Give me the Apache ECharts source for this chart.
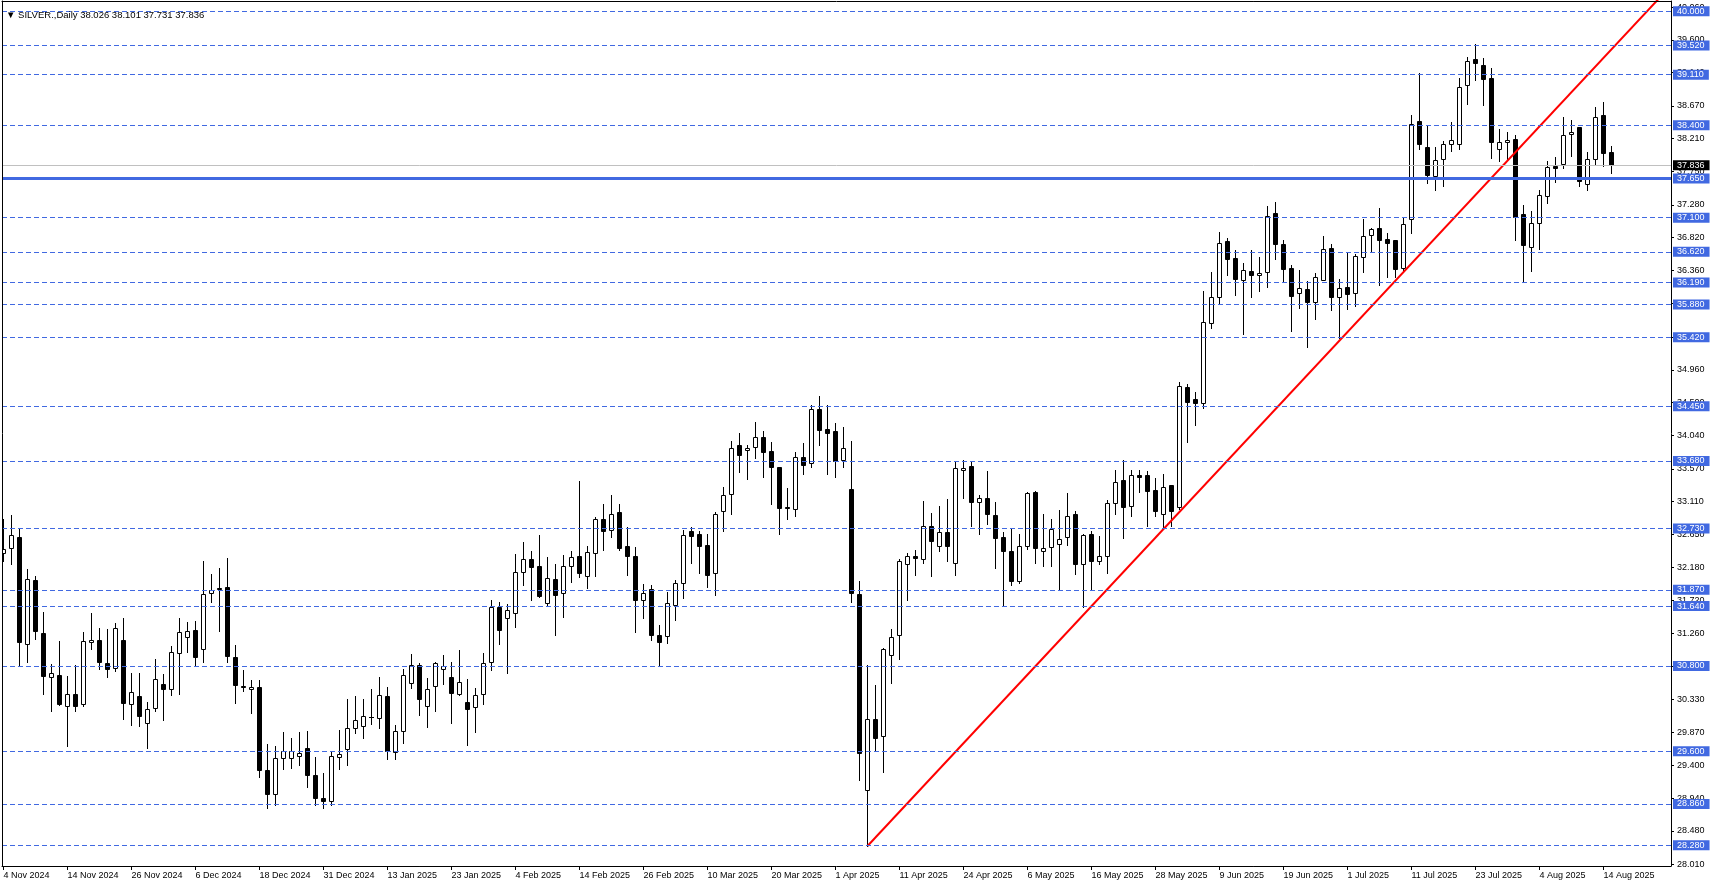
<!DOCTYPE html>
<html><head><meta charset="utf-8">
<script src="https://cdn.jsdelivr.net/npm/echarts@6/dist/echarts.min.js"></script>
<style>html,body{margin:0;padding:0;background:#fff}#c{width:1712px;height:888px}</style>
</head><body><div id="c"></div>
<script>
// ---- data (bar index 0 = 4 Nov 2024 ... 201 = 15 Aug 2025) ----
const openP = [
32.38,32.45,32.61,31.11,32.01,31.26,30.65,30.67,30.24,30.41,
30.27,31.13,31.16,30.84,30.77,31.16,30.27,30.37,30.00,30.21,
30.54,30.47,30.98,31.21,31.30,31.04,31.82,31.89,31.91,30.93,
30.52,30.48,30.51,29.34,29.00,29.51,29.51,29.54,29.64,29.27,
28.95,28.90,29.52,29.63,29.92,29.96,30.08,30.07,30.37,29.59,
29.88,30.56,30.81,30.23,30.52,30.76,30.65,30.41,30.29,30.22,
30.40,30.85,31.63,31.47,31.55,32.12,32.30,32.20,31.68,32.02,
31.82,32.21,32.34,32.07,32.38,32.87,32.71,32.96,32.48,32.35,
31.72,31.88,31.24,31.22,31.65,31.97,32.70,32.65,32.50,32.11,
32.97,33.21,33.91,33.83,33.87,34.01,33.82,33.59,33.03,33.01,
33.73,33.65,34.41,34.13,34.10,33.70,33.28,31.81,29.05,30.06,
29.82,30.95,31.23,32.23,32.34,32.30,32.76,32.49,32.68,32.24,
33.55,33.61,33.10,33.16,32.92,32.61,32.42,32.00,32.48,33.24,
32.42,32.47,32.51,32.61,32.94,32.23,32.65,32.27,32.34,33.09,
33.41,33.05,33.48,33.48,33.27,32.94,33.34,33.03,34.72,34.55,
34.49,35.62,35.99,36.77,36.53,36.23,36.35,36.29,36.33,37.17,
36.73,36.39,36.04,36.09,35.92,36.23,36.67,35.99,36.13,36.04,
36.55,36.85,36.96,36.80,36.78,36.39,37.08,38.46,38.09,37.68,
37.93,38.13,38.14,38.96,39.33,39.25,39.06,38.07,38.16,38.21,
37.15,36.69,37.02,37.40,37.83,37.85,38.27,38.37,37.57,37.93,
38.54,38.026];
const highP = [
32.87,32.92,32.72,32.16,32.06,31.56,30.83,31.15,30.66,30.81,
31.28,31.54,31.33,31.32,31.40,31.47,30.70,30.70,30.29,30.89,
30.68,31.08,31.47,31.41,31.43,32.27,32.09,32.18,32.32,31.09,
30.74,30.60,30.60,29.70,29.68,29.87,29.78,29.87,29.88,29.52,
29.30,29.59,29.90,30.33,30.38,30.33,30.47,30.64,30.50,29.97,
30.76,30.97,30.84,30.63,30.86,30.95,30.85,31.02,30.62,30.49,
30.98,31.73,31.70,31.67,32.37,32.54,32.41,32.64,32.33,32.23,
32.36,32.41,33.40,32.49,32.89,33.08,33.20,33.08,32.75,32.47,
31.95,31.93,31.38,31.84,32.01,32.71,32.75,32.69,32.65,32.96,
33.31,33.96,34.07,33.90,34.23,34.10,33.95,33.60,33.30,33.81,
33.93,34.47,34.59,34.47,34.21,34.16,33.96,31.99,30.81,30.53,
31.05,31.32,32.30,32.39,32.43,33.12,32.95,33.05,33.15,33.68,
33.69,33.68,33.20,33.54,33.11,32.68,32.72,32.66,33.24,33.26,
32.94,32.87,32.99,33.23,32.97,32.65,32.69,32.63,33.13,33.56,
33.70,33.55,33.56,33.54,33.44,33.49,33.34,34.79,34.76,34.65,
36.07,36.34,36.90,36.82,36.64,36.46,36.64,36.55,37.26,37.32,
36.79,36.43,36.36,36.21,36.32,36.84,36.73,36.24,36.62,36.59,
37.08,36.96,37.24,36.88,36.78,37.11,38.54,39.13,38.39,38.09,
38.18,38.44,39.06,39.36,39.54,39.35,39.20,38.35,38.30,38.26,
37.28,37.19,37.49,37.90,37.95,38.51,38.47,38.37,38.02,38.65,
38.73,38.101];
const lowP = [
32.27,32.23,30.81,30.86,31.18,30.41,30.17,30.25,29.67,30.17,
30.24,31.04,30.76,30.64,30.73,30.06,29.97,29.96,29.64,30.17,
30.04,30.39,30.41,31.00,30.81,30.86,31.70,31.29,30.86,30.28,
30.45,30.14,29.24,28.80,28.85,29.35,29.36,29.40,29.10,28.84,
28.80,28.85,29.35,29.40,29.86,29.79,29.98,29.93,29.49,29.49,
29.72,30.49,30.11,29.94,30.17,30.55,30.00,30.39,29.69,29.87,
30.27,30.74,31.11,30.70,31.34,31.94,31.73,31.77,31.66,31.23,
31.49,31.98,32.05,31.90,32.06,32.43,32.61,32.43,32.08,31.28,
31.48,31.17,30.80,31.12,31.45,31.76,32.25,32.10,31.91,31.79,
32.69,32.93,33.52,33.42,33.72,33.45,33.08,32.66,32.87,32.91,
33.50,33.59,33.91,33.49,33.46,33.60,31.70,29.19,28.27,29.60,
29.31,30.56,30.90,31.73,32.08,32.24,32.07,32.42,32.27,32.08,
33.16,32.77,32.65,32.79,32.18,31.66,31.93,31.96,32.44,32.24,
32.20,32.20,31.87,32.50,32.09,31.63,31.86,32.23,32.11,32.93,
32.60,32.90,33.24,32.76,32.91,32.75,32.76,33.00,33.95,34.18,
34.43,35.55,35.90,36.29,36.01,35.46,35.98,36.07,36.12,36.52,
36.19,35.50,35.83,35.28,35.67,36.22,35.80,35.41,35.81,35.86,
36.34,36.62,36.16,36.27,36.27,36.35,36.89,38.07,37.58,37.49,
37.54,38.03,38.06,38.70,39.03,38.69,37.94,37.90,37.91,36.78,
36.20,36.35,36.66,37.31,37.60,37.80,37.96,37.55,37.49,37.84,
37.83,37.731];
const closeP = [
32.44,32.64,31.14,32.02,31.29,30.66,30.70,30.26,30.41,30.23,
31.15,31.17,30.85,30.76,31.33,30.28,30.43,30.09,30.20,30.61,
30.48,30.99,31.27,31.29,30.93,31.81,31.86,31.88,30.94,30.53,
30.51,30.51,29.34,29.00,29.50,29.60,29.61,29.58,29.27,28.95,
28.90,29.54,29.56,29.92,30.04,30.09,30.08,30.39,29.61,29.89,
30.67,30.81,30.34,30.48,30.84,30.80,30.42,30.58,30.20,30.39,
30.84,31.63,31.30,31.59,32.12,32.30,32.19,31.78,32.03,31.80,
32.21,32.33,32.10,32.40,32.87,32.69,32.93,32.45,32.34,31.73,
31.83,31.24,31.14,31.68,31.96,32.64,32.62,32.49,32.08,32.93,
33.20,33.86,33.77,33.86,34.01,33.80,33.59,33.02,33.02,33.73,
33.63,34.41,34.12,34.08,33.68,33.86,31.83,29.58,30.06,29.79,
31.04,31.20,32.27,32.35,32.31,32.76,32.55,32.68,32.49,33.58,
33.58,33.10,33.16,32.93,32.60,32.41,32.00,32.48,33.23,32.45,
32.45,32.73,32.59,32.90,32.23,32.64,32.28,32.35,33.09,33.39,
33.04,33.48,33.46,33.26,32.97,33.32,32.98,34.74,34.51,34.50,
35.64,35.99,36.75,36.52,36.24,36.36,36.30,36.32,37.13,36.73,
36.38,36.00,36.11,35.91,36.26,36.66,35.99,36.11,36.03,36.56,
36.84,36.94,36.78,36.75,36.38,37.01,38.41,38.13,37.70,37.91,
38.14,38.19,38.93,39.30,39.27,39.05,38.17,38.16,38.19,37.11,
36.71,37.03,37.42,37.81,37.80,38.26,38.30,37.62,37.92,38.51,
38.01,37.836];

const xTickBars = [0,8,16,24,32,40,48,56,64,72,80,88,96,104,112,120,128,136,144,152,160,168,176,184,192,200];
const xTickLabels = ['4 Nov 2024','14 Nov 2024','26 Nov 2024','6 Dec 2024','18 Dec 2024','31 Dec 2024',
  '13 Jan 2025','23 Jan 2025','4 Feb 2025','14 Feb 2025','26 Feb 2025','10 Mar 2025','20 Mar 2025',
  '1 Apr 2025','11 Apr 2025','24 Apr 2025','6 May 2025','16 May 2025','28 May 2025','9 Jun 2025',
  '19 Jun 2025','1 Jul 2025','11 Jul 2025','23 Jul 2025','4 Aug 2025','14 Aug 2025'];
const yTickValues = [28.010,28.480,28.940,29.400,29.870,30.330,30.800,31.260,31.720,32.180,32.650,33.110,
  33.570,34.040,34.500,34.960,35.420,35.890,36.360,36.820,37.280,37.750,38.210,38.670,39.140,39.600,40.060];
const dashedLevels = [40.000,39.520,39.110,38.400,37.100,36.620,36.190,35.880,35.420,34.450,33.680,32.730,
  31.870,31.640,30.800,29.600,28.860,28.280];
const keyLevel = 37.650;
const trendLine = [[108, 28.268], [212, 40.79]];
const symbolName = 'SILVER.,Daily';

// ---- layout constants ----
const yMin = 27.9874, yMax = 40.1448;
const xMin = -0.1875, xMax = 208.4375;
const FONT = 'Liberation Sans, Arial, sans-serif';
const BLUE = '#4169E1';

const last = openP.length - 1;
const lastPrice = closeP[last];
const candleData = openP.map((o, i) => [i, o, closeP[i], lowP[i], highP[i]]);
const xLabelMap = {};
xTickBars.forEach((b, k) => { xLabelMap[b] = xTickLabels[k]; });

function renderCandle(params, api) {
  const i = api.value(0), o = api.value(1), c = api.value(2), l = api.value(3), h = api.value(4);
  const pO = api.coord([i, o]), pC = api.coord([i, c]), pL = api.coord([i, l]), pH = api.coord([i, h]);
  const cx = Math.floor(pO[0] + 0.01) + 0.5;
  const yH = Math.round(pH[1]), yL = Math.round(pL[1]);
  const yO = Math.round(pO[1]), yC = Math.round(pC[1]);
  const top = Math.min(yO, yC), bot = Math.max(yO, yC);
  const bull = c >= o;
  const children = [{
    type: 'line', shape: {x1: cx, y1: yH, x2: cx, y2: yL + 1},
    style: {stroke: '#000', lineWidth: 1}
  }];
  if (bot - top < 1) {
    children.push({type: 'line', shape: {x1: cx - 2.5, y1: top + 0.5, x2: cx + 2.5, y2: top + 0.5},
      style: {stroke: '#000', lineWidth: 1}});
  } else {
    children.push({type: 'rect', shape: {x: cx - 2, y: top + 0.5, width: 4, height: bot - top},
      style: {fill: bull ? '#ffffff' : '#000000', stroke: '#000', lineWidth: 1}});
  }
  return {type: 'group', children};
}

const fmt3 = v => Number(v).toFixed(3);
const levelLabel = (bg) => ({
  show: true, position: 'end', distance: 2, formatter: p => fmt3(p.value),
  color: '#fff', backgroundColor: bg, padding: [1, 5, 0, 4], fontSize: 9, lineHeight: 9, fontFamily: FONT
});

const markData = dashedLevels.map(v => ({
  yAxis: v, lineStyle: {color: BLUE, width: 1, type: [5, 3]}, label: levelLabel(BLUE)
}));
markData.push({yAxis: keyLevel, lineStyle: {color: BLUE, width: 3, type: 'solid'}, label: levelLabel(BLUE)});
markData.push({yAxis: lastPrice, lineStyle: {color: '#c0c0c0', width: 1, type: 'solid'}, label: levelLabel('#000')});

const chart = echarts.init(document.getElementById('c'), null, {renderer: 'canvas'});
chart.setOption({
  animation: false,
  backgroundColor: '#ffffff',
  textStyle: {fontFamily: FONT},
  title: {
    text: '\u25BC ' + symbolName + ' ' + [openP[last], highP[last], lowP[last], closeP[last]].map(fmt3).join(' '),
    left: 1, top: 5,
    textStyle: {fontSize: 9.5, fontWeight: 'normal', color: '#000', fontFamily: FONT}
  },
  grid: {left: 2, right: 41, top: 1, bottom: 22, containLabel: false},
  xAxis: [{
    type: 'value', min: xMin, max: xMax, position: 'bottom',
    splitLine: {show: false},
    axisLine: {show: true, onZero: false, lineStyle: {color: '#000', width: 1}},
    axisTick: {show: true, length: 4, customValues: xTickBars, lineStyle: {color: '#000'}},
    axisLabel: {show: true, customValues: xTickBars, formatter: v => xLabelMap[Math.round(v)] || '',
      align: 'left', margin: 5, fontSize: 9, color: '#000', fontFamily: FONT, hideOverlap: false}
  }, {
    type: 'value', min: xMin, max: xMax, position: 'top', z: 10,
    splitLine: {show: false}, axisTick: {show: false}, axisLabel: {show: false},
    axisLine: {show: true, onZero: false, lineStyle: {color: '#000', width: 1}}
  }],
  yAxis: [{
    type: 'value', min: yMin, max: yMax, position: 'right',
    splitLine: {show: false},
    axisLine: {show: true, onZero: false, lineStyle: {color: '#000', width: 1}},
    axisTick: {show: true, length: 3, customValues: yTickValues, lineStyle: {color: '#000'}},
    axisLabel: {show: true, customValues: yTickValues, formatter: v => fmt3(v), margin: 6,
      fontSize: 9, color: '#000', fontFamily: FONT, hideOverlap: false}
  }, {
    type: 'value', min: yMin, max: yMax, position: 'left', z: 10,
    splitLine: {show: false}, axisTick: {show: false}, axisLabel: {show: false},
    axisLine: {show: true, onZero: false, lineStyle: {color: '#000', width: 1}}
  }],
  series: [{
    type: 'custom', name: 'candles', xAxisIndex: 0, yAxisIndex: 0,
    renderItem: renderCandle, data: candleData, clip: true, silent: true,
    encode: {x: 0, y: [1, 2, 3, 4]}, z: 2
  }, {
    type: 'line', name: 'trend', xAxisIndex: 0, yAxisIndex: 0, data: trendLine,
    showSymbol: false, symbol: 'none', clip: true, silent: true, z: 4,
    lineStyle: {color: '#ff0000', width: 2},
    markLine: {symbol: ['none', 'none'], silent: true, animation: false, data: markData, precision: 3}
  }]
});
</script>
</body></html>
